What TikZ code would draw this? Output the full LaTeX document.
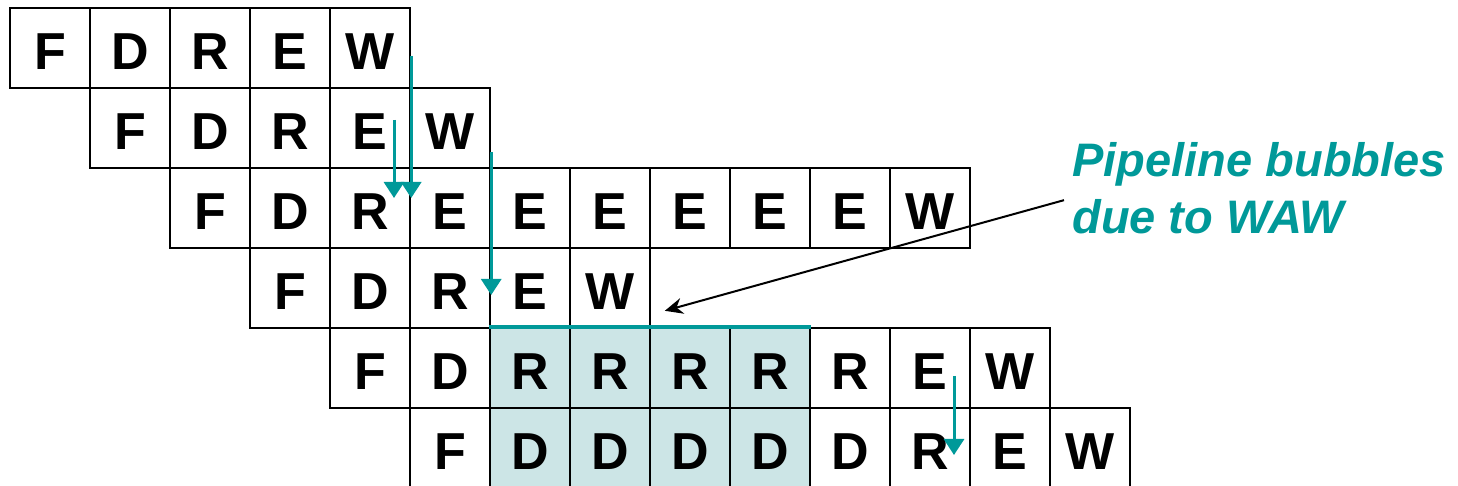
\documentclass[tikz,border=0pt]{standalone}
\usepackage{fontspec}
\setmainfont{Liberation Sans}
\usetikzlibrary{arrows.meta,backgrounds}
\definecolor{HazTeal}{HTML}{009999}
\definecolor{HazShade}{HTML}{CCE5E6}

\begin{document}
\begin{tikzpicture}[>=Stealth]
  \tikzstyle{stage}=[draw=black,line width=1.2pt,minimum size=40pt,inner sep=0pt,
    text height=22pt,text depth=0pt,font=\fontsize{26}{26}\selectfont\bfseries]
  \tikzstyle{dep}=[-{Triangle[width=10pt,length=8pt]},line width=1.5pt,color=HazTeal]
  \tikzstyle{note}=[align=left,inner sep=0pt,text=HazTeal,
    font=\fontsize{23.5}{28.5}\selectfont\bfseries\itshape]
  \useasboundingbox (0,0) rectangle (729pt,-243pt);
  % one row per instruction, cells of 40pt
  \foreach \s [count=\k from 0] in {F,D,R,E,W}
    \node[stage] (r0c\k) at ({25pt+40pt*\k},-24pt) {\s};
  \foreach \s [count=\k from 1] in {F,D,R,E,W}
    \node[stage] (r1c\k) at ({25pt+40pt*\k},-64pt) {\s};
  \foreach \s [count=\k from 2] in {F,D,R,E,E,E,E,E,E,W}
    \node[stage] (r2c\k) at ({25pt+40pt*\k},-104pt) {\s};
  \foreach \s [count=\k from 3] in {F,D,R,E,W}
    \node[stage] (r3c\k) at ({25pt+40pt*\k},-144pt) {\s};
  \foreach \s [count=\k from 4] in {F,D,R,R,R,R,R,E,W}
    \node[stage] (r4c\k) at ({25pt+40pt*\k},-184pt) {\s};
  \foreach \s [count=\k from 5] in {F,D,D,D,D,D,R,E,W}
    \node[stage] (r5c\k) at ({25pt+40pt*\k},-224pt) {\s};
  % stalled cells
  \begin{scope}[on background layer]
    \fill[HazShade] (r4c6.north west) rectangle (r5c9.south east);
  \end{scope}
  \draw[line width=2pt,color=HazTeal] (r4c6.north west) -- (r4c9.north east);
  % dependences
  \draw[dep] ([yshift=-4pt]r0c4.east) -- ([yshift=5pt]r2c4.east);
  \draw[dep] ([xshift=12pt,yshift=4pt]r1c4.center) -- ([xshift=12pt,yshift=5pt]r2c4.center);
  \draw[dep] ([yshift=-12pt]r1c5.east) -- ([yshift=-3.5pt]r3c5.east);
  \draw[dep] ([xshift=12pt,yshift=-4pt]r4c11.center) -- ([xshift=12pt,yshift=-3.5pt]r5c11.center);
  \node[note,anchor=north west] (note) at (536pt,-71pt) {Pipeline bubbles\\due to WAW};
  \coordinate (gap) at ([xshift=8pt,yshift=8pt]r4c8.north west);
  \draw[-{Stealth[length=9pt,width=8pt]},line width=1pt]
    ([xshift=-4pt,yshift=-6pt]note.west) -- (gap);
\end{tikzpicture}
\end{document}
